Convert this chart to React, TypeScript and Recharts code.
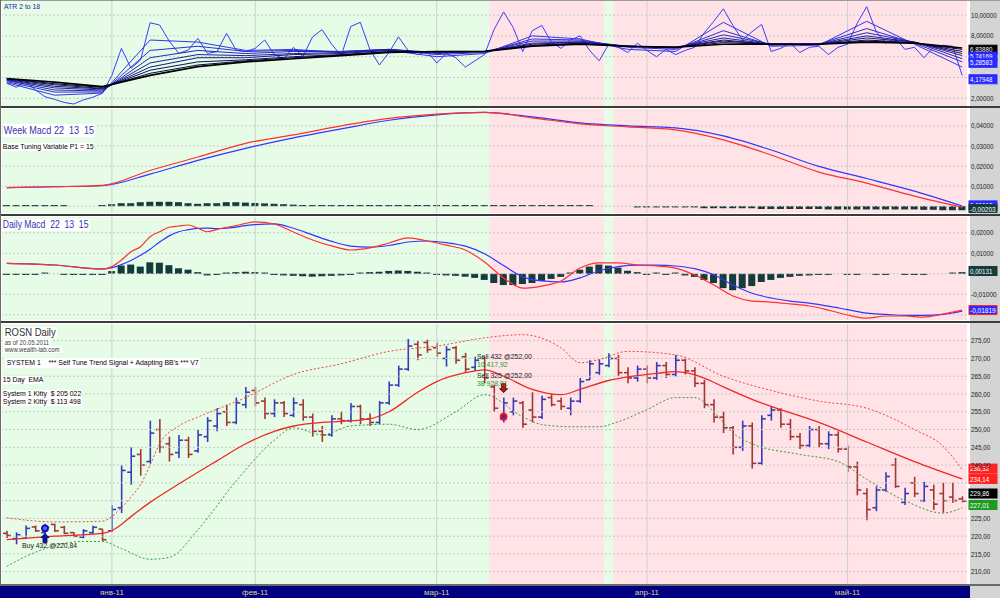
import React from 'react';
import {
  ComposedChart,
  Line,
  Bar,
  XAxis,
  YAxis,
  ReferenceArea,
  ReferenceLine,
  ReferenceDot,
} from 'recharts';

// first trading bar of each month (bar index) and its label
const monthTicks = [11, 26, 45, 67, 88];
const monthLabels = ['янв-11', 'фев-11', 'мар-11', 'апр-11', 'май-11'];

// trend regime zones: [first bar, last bar, regime]
const zones: [number, number, 'long' | 'short'][] = [
  [0, 50, 'long'],
  [51, 62, 'short'],
  [63, 63, 'long'],
  [64, 100, 'short'],
];

// ROSN daily OHLC, 15.12.2010 .. 20.05.2011
const open = [
  220.8, 219.3, 219.4, 222.6, 221.0, 223.3, 222.5, 221.0, 219.7, 221.0, 222.0,
  221.5, 228.0, 238.0, 243.0, 241.0, 250.0, 246.0, 243.5, 247.0, 244.0,
  248.0, 251.0, 255.0, 252.0, 257.0, 261.0, 258.0, 254.5, 257.5, 254.0,
  257.0, 253.5, 249.5, 248.5, 253.0, 252.5, 256.5, 253.0, 252.0, 257.5,
  262.5, 267.0, 274.0, 274.5, 273.0, 270.0, 273.0, 270.5, 267.5, 270.0,
  262.0, 253.0, 255.0, 257.5, 255.5, 253.5, 259.0, 258.0, 256.0, 258.0,
  264.0, 266.0, 268.0, 270.0, 266.0, 264.5, 267.0, 264.5, 268.0, 265.5,
  269.5, 266.5, 263.0, 257.0, 253.5, 250.5, 245.0, 251.0, 240.5, 254.0,
  255.5, 251.5, 248.0, 245.5, 250.0, 246.0, 248.5, 244.5, 239.5, 232.0,
  228.0, 233.0, 240.0, 229.5, 235.0, 230.0, 233.0, 232.0, 231.0, 230.5,
];
const high = [
  221.5, 221.1, 223.0, 223.0, 223.5, 223.5, 222.9, 221.2, 222.0, 222.9, 222.0,
  228.7, 240.0, 245.0, 244.5, 252.5, 253.0, 248.0, 248.5, 248.0, 250.0,
  253.5, 256.0, 257.0, 259.0, 262.0, 262.0, 259.0, 258.5, 258.0, 259.0,
  258.5, 254.5, 251.0, 254.0, 255.0, 257.5, 257.0, 254.5, 258.0, 263.5,
  268.0, 275.5, 275.0, 275.3, 274.5, 273.5, 273.5, 271.6, 270.5, 270.5,
  262.6, 259.0, 259.0, 258.0, 260.5, 259.5, 260.0, 259.0, 259.0, 264.5,
  269.5, 269.7, 271.5, 271.0, 267.5, 268.0, 268.0, 269.0, 269.0, 271.0,
  270.0, 267.5, 264.0, 258.5, 255.0, 251.0, 252.5, 252.0, 254.0, 256.5,
  256.0, 253.0, 249.0, 251.0, 251.0, 249.5, 249.5, 245.5, 241.0, 233.5,
  234.0, 238.0, 242.0, 233.6, 236.7, 235.3, 234.5, 235.0, 235.0, 231.2,
];
const low = [
  219.5, 217.7, 219.3, 221.2, 220.5, 221.2, 220.6, 219.7, 219.4, 220.6, 218.7,
  221.2, 226.5, 234.5, 237.0, 240.5, 243.5, 241.0, 242.0, 242.0, 243.5,
  246.5, 249.5, 251.0, 251.5, 256.0, 256.5, 253.0, 253.5, 253.5, 253.5,
  252.5, 248.0, 246.5, 248.0, 251.5, 252.0, 251.5, 251.0, 251.5, 257.0,
  262.0, 266.5, 269.5, 271.6, 270.5, 267.7, 268.5, 266.0, 266.5, 263.0,
  255.0, 252.0, 254.0, 250.5, 252.0, 253.0, 256.5, 255.5, 254.0, 257.5,
  264.0, 265.4, 267.5, 265.0, 263.0, 263.5, 263.0, 264.0, 264.5, 265.0,
  265.5, 262.0, 256.0, 252.0, 249.0, 243.0, 244.0, 239.0, 240.0, 252.5,
  250.5, 247.0, 244.5, 245.0, 245.0, 244.5, 243.5, 238.0, 231.5, 224.5,
  227.0, 232.5, 233.6, 228.8, 231.0, 229.7, 227.4, 226.6, 229.4, 229.5,
];
const close = [
  220.2, 220.4, 222.2, 221.5, 222.5, 221.5, 220.8, 220.0, 221.5, 222.5, 219.0,
  227.5, 238.5, 242.5, 240.0, 249.0, 245.0, 243.0, 247.0, 243.0, 248.5,
  252.5, 254.5, 252.0, 257.5, 260.5, 257.5, 254.5, 257.5, 254.5, 257.5,
  253.5, 249.5, 248.5, 253.0, 252.5, 256.5, 253.0, 252.0, 257.5, 262.5,
  267.0, 273.5, 271.0, 272.5, 271.5, 272.5, 269.5, 267.0, 269.5, 264.5,
  256.0, 257.5, 258.0, 251.5, 253.5, 258.5, 257.0, 256.5, 258.0, 263.5,
  268.5, 268.5, 270.0, 266.0, 264.5, 267.0, 264.5, 268.0, 265.5, 269.5,
  266.5, 263.0, 257.0, 253.5, 250.5, 245.0, 251.0, 240.5, 253.0, 255.5,
  251.5, 248.0, 245.5, 250.0, 246.0, 248.5, 244.5, 239.5, 233.0, 227.5,
  233.0, 236.8, 234.0, 232.0, 232.0, 234.0, 229.0, 230.0, 230.0, 229.86,
];

// 15 day EMA and adaptive bands, read at key bars
const emaIdx = [0, 5, 10, 11, 12, 13, 15, 17, 20, 22, 25, 28, 30, 33, 35, 38, 40, 43, 45, 48, 50, 52, 55, 58, 60, 63, 65, 68, 70, 73, 75, 78, 80, 85, 90, 95, 100];
const ema15 = [219.0, 220.0, 220.8, 221.6, 223.3, 225.5, 229.5, 233.0, 238.0, 241.2, 246.0, 249.5, 251.0, 252.0, 252.3, 253.0, 255.0, 260.5, 263.5, 266.0, 266.8, 265.0, 261.3, 259.8, 261.3, 263.8, 264.8, 265.8, 266.3, 264.5, 262.0, 258.5, 256.5, 252.0, 246.5, 241.0, 236.1];
const upperIdx = [0, 5, 10, 11, 12, 13, 14, 15, 16, 18, 20, 25, 30, 35, 40, 45, 50, 54, 58, 60, 62, 65, 70, 75, 80, 85, 90, 95, 98, 100];
const upperBand = [225.2, 224.0, 224.2, 225.5, 228.0, 231.0, 234.5, 240.0, 246.0, 251.0, 253.5, 259.0, 265.5, 268.5, 272.0, 273.5, 275.8, 276.7, 273.0, 268.8, 269.7, 272.0, 271.0, 265.0, 261.0, 258.0, 256.0, 250.0, 245.3, 238.7];
const lowerIdx = [0, 3, 8, 10, 12, 15, 17, 20, 24, 28, 30, 33, 36, 40, 43, 47, 50, 54, 56, 59, 62, 64, 67, 70, 72, 74, 76, 78, 83, 87, 90, 94, 98, 100];
const lowerBand = [211.5, 215.5, 218.5, 218.5, 216.5, 213.5, 214.0, 221.8, 235.5, 247.0, 250.5, 248.5, 251.0, 251.5, 250.0, 255.0, 259.8, 253.6, 251.4, 250.8, 250.8, 252.2, 255.6, 259.0, 259.0, 255.0, 249.0, 246.0, 243.0, 241.0, 236.0, 230.0, 226.5, 228.0];

// ATR 2 (daily)
const atr2 = [
  3.44, 3.06, 3.6, 2.8, 2.15, 1.9, 1.6, 1.45, 1.84, 2.1, 2.48,
  4.2, 6.8, 4.88, 5.68, 9.26, 9.04, 7.5, 6.32, 6.64, 7.76,
  6.32, 6.48, 8.24, 6.64, 6.48, 6.8, 7.6, 6.2, 5.8, 6.9,
  6.0, 7.9, 8.6, 7.2, 6.1, 8.9, 9.3, 6.7, 5.2, 6.4,
  7.9, 6.6, 6.2, 6.5, 5.4, 6.3, 5.9, 5.0, 5.6, 6.2,
  8.6, 10.3, 8.8, 6.5, 8.5, 9.0, 7.4, 6.8, 7.6, 8.0,
  6.6, 5.6, 7.2, 6.9, 6.4, 7.3, 6.6, 6.0, 6.7, 6.2,
  6.6, 6.9, 8.3, 9.4, 10.6, 9.0, 7.6, 8.4, 9.1, 6.5,
  6.8, 7.3, 6.4, 6.9, 7.0, 6.2, 6.9, 7.2, 9.2, 10.8,
  8.4, 7.3, 7.8, 6.7, 6.9, 5.9, 6.9, 7.1, 7.0, 4.18,
];
// ATR 3..10, read every 5th bar
const weekIdx = [0, 5, 10, 15, 20, 25, 30, 35, 40, 45, 50, 55, 60, 65, 70, 75, 80, 85, 90, 95, 100];
const atr3 = [3.5, 2.3, 2.5, 7.6, 7.4, 6.6, 6.7, 6.4, 6.6, 6.0, 6.3, 8.0, 7.7, 6.7, 6.5, 9.3, 7.0, 7.1, 9.4, 7.2, 5.0];
const atr4 = [3.6, 2.6, 2.6, 6.6, 7.0, 6.5, 6.6, 6.5, 6.7, 6.2, 6.4, 7.7, 7.6, 6.9, 6.7, 8.5, 7.1, 7.2, 8.7, 7.3, 5.5];
const atr5 = [3.7, 2.8, 2.7, 5.9, 6.6, 6.3, 6.5, 6.5, 6.7, 6.3, 6.5, 7.5, 7.5, 7.0, 6.8, 8.1, 7.2, 7.2, 8.3, 7.4, 5.8];
const atr6 = [3.75, 3.0, 2.8, 5.4, 6.2, 6.1, 6.3, 6.4, 6.7, 6.4, 6.5, 7.3, 7.4, 7.0, 6.9, 7.8, 7.2, 7.2, 8.0, 7.4, 6.1];
const atr7 = [3.8, 3.15, 2.9, 5.0, 5.9, 5.9, 6.2, 6.3, 6.6, 6.4, 6.5, 7.2, 7.4, 7.0, 6.9, 7.6, 7.2, 7.2, 7.8, 7.4, 6.3];
const atr8 = [3.85, 3.3, 2.95, 4.7, 5.5, 5.7, 6.0, 6.2, 6.5, 6.5, 6.5, 7.1, 7.3, 7.0, 6.9, 7.5, 7.2, 7.2, 7.6, 7.35, 6.5];
const atr9 = [3.88, 3.4, 3.05, 4.4, 5.2, 5.6, 5.9, 6.15, 6.45, 6.5, 6.5, 7.05, 7.25, 7.0, 6.9, 7.35, 7.2, 7.2, 7.5, 7.3, 6.7];
const atr10 = [3.9, 3.55, 3.12, 4.2, 5.04, 5.5, 5.8, 6.1, 6.4, 6.5, 6.5, 7.0, 7.2, 7.0, 6.9, 7.2, 7.2, 7.2, 7.4, 7.3, 6.84];

// weekly MACD 22/13/15 (every 5th bar) and histogram (daily)
const weekMacd = [0.0093, 0.0097, 0.0104, 0.0178, 0.0245, 0.0313, 0.0355, 0.04, 0.0437, 0.0458, 0.0467, 0.044, 0.041, 0.0395, 0.038, 0.033, 0.0255, 0.017, 0.0115, 0.005, -0.0005];
const weekSignal = [0.0093, 0.0097, 0.0102, 0.016, 0.0228, 0.0288, 0.034, 0.0385, 0.0428, 0.0455, 0.0467, 0.0445, 0.0415, 0.04, 0.039, 0.035, 0.028, 0.0198, 0.0138, 0.0075, 0.0001];
const weekHist: (number | null)[] = [
  0.0006, 0.0006, 0.0006, 0.0006, 0.0006, 0.0006, 0.0006, null, null, null, 0.0006,
  0.001, 0.0015, 0.0015, 0.002, 0.0022, 0.0022, 0.0022, 0.002, 0.0015, 0.0012,
  0.0015, 0.0015, 0.002, 0.002, 0.0018, 0.0016, 0.0014, 0.0012, 0.001, 0.0008,
  0.0006, 0.0006, 0.0006, 0.0006, 0.0006, 0.0006, 0.0006, 0.0006, 0.0006, 0.0006,
  0.0006, 0.0006, 0.0006, 0.0006, 0.0006, 0.0006, 0.0006, 0.0006, 0.0006, 0.0006,
  0.0006, 0.0006, 0.0006, 0.0006, 0.0006, 0.0006, 0.0006, 0.0006, 0.0006, 0.0006,
  0.0006, null, null, null, null, -0.0006, -0.0006, -0.0006, -0.0006, -0.0006,
  -0.0006, -0.0006, -0.001, -0.001, -0.001, -0.001, -0.001, -0.001, -0.0014, -0.0014,
  -0.0014, -0.0014, -0.0014, -0.0014, -0.0014, -0.0016, -0.0016, -0.0016, -0.0016, -0.0016,
  -0.0016, -0.0016, -0.0016, -0.0016, -0.0016, -0.0018, -0.0018, -0.002, -0.002, -0.002,
];

// daily MACD 22/13/15 at key bars, histogram daily
const dailyIdx = [0, 5, 10, 11, 12, 13, 14, 15, 16, 17, 18, 19, 20, 21, 22, 23, 24, 25, 26, 28, 30, 32, 34, 36, 38, 40, 42, 44, 46, 48, 50, 52, 54, 56, 58, 60, 62, 64, 66, 68, 70, 72, 74, 76, 78, 80, 82, 84, 86, 88, 90, 92, 94, 96, 98, 100];
const dailyMacd = [0.0051, 0.0043, 0.0023, 0.0035, 0.0067, 0.0108, 0.0132, 0.0181, 0.0205, 0.0227, 0.0233, 0.0238, 0.0222, 0.0205, 0.0217, 0.0227, 0.0235, 0.0246, 0.0253, 0.0243, 0.0204, 0.0165, 0.0136, 0.0116, 0.0126, 0.015, 0.0175, 0.016, 0.014, 0.0116, 0.0058, -0.002, -0.007, -0.006, -0.0035, 0.0028, 0.0053, 0.0053, 0.0043, 0.0038, 0.0028, -0.0006, -0.0055, -0.0108, -0.0133, -0.0138, -0.0147, -0.0157, -0.0177, -0.0201, -0.0216, -0.0206, -0.0206, -0.0211, -0.0196, -0.0177];
const dailySignal = [0.0051, 0.0043, 0.0024, 0.003, 0.0045, 0.0065, 0.009, 0.012, 0.0155, 0.0185, 0.0205, 0.0215, 0.0222, 0.0223, 0.022, 0.0222, 0.0228, 0.0235, 0.024, 0.0243, 0.0222, 0.019, 0.0158, 0.0135, 0.013, 0.0138, 0.0155, 0.016, 0.0152, 0.0135, 0.0098, 0.004, -0.0015, -0.0035, -0.004, -0.002, 0.0015, 0.0035, 0.0042, 0.0042, 0.0038, 0.0025, -0.0005, -0.0055, -0.0095, -0.0118, -0.0133, -0.0143, -0.0158, -0.0175, -0.0192, -0.0198, -0.0203, -0.0203, -0.0198, -0.0182];
const dailyHist: (number | null)[] = [
  -0.0006, -0.0006, -0.0006, -0.0006, 0.0006, null, -0.0006, -0.0006, -0.0006, -0.0006, -0.0006,
  0.0013, 0.004, 0.0045, 0.0035, 0.0056, 0.0054, 0.0042, 0.0027, 0.002, 0.0008,
  -0.0008, -0.0006, 0.0006, 0.0008, 0.001, 0.0008, 0.0006, -0.0006, -0.0008, -0.001,
  -0.0012, -0.0014, -0.0012, -0.001, -0.0008, -0.0006, 0.0006, 0.0008, 0.001, 0.0014,
  0.0016, 0.0014, 0.001, 0.0006, -0.0006, -0.0008, -0.001, -0.0014, -0.002, -0.003,
  -0.0045, -0.0055, -0.0055, -0.005, -0.0045, -0.0035, -0.0025, -0.0015, 0.0006, 0.002,
  0.0035, 0.0045, 0.004, 0.003, 0.0015, 0.0008, -0.0006, 0.0006, -0.0006, 0.0006,
  -0.0008, -0.0015, -0.003, -0.0045, -0.007, -0.008, -0.007, -0.006, -0.004, -0.003,
  -0.002, -0.0015, -0.001, -0.0008, -0.0006, -0.0006, null, -0.0006, -0.0006, null,
  -0.0006, -0.0006, null, -0.0006, -0.0006, -0.0006, null, null, 0.0006, 0.0008, 0.0013,
];

// trade signals
const buySignal = { bar: 4, price: 220.84, text: 'Buy 432 @220,84' };
const sellSignal = { bar: 52, price: 252.0 };
const sellTexts = ['Sell 432 @252,00', '10 417,92', 'Sell 325 @252,00', '38 928,01'];

// last-value badges on the right scale: [value used for placement, text, kind]
const atrBadges: [number, string, string][] = [
  [6.67, '6,83880', 'black'],
  [6.0, '5,74169', 'blue'],
  [5.41, '5,28583', 'blue'],
  [3.83, '4,17948', 'blue'],
];
const weekBadges: [number, string, string][] = [
  [0.0004, '0,00013', 'blue'],
  [-0.0014, '-0,00203', 'dark'],
];
const dailyBadges: [number, string, string][] = [
  [0.00137, '0,00131', 'dark'],
  [-0.0177, '-0,01819', 'bluered'],
];
const priceBadges: [number, string, string][] = [
  [239.0, '236,32', 'red'],
  [236.1, '234,14', 'red'],
  [232.0, '229,86', 'black'],
  [228.77, '227,01', 'green'],
];

// grid levels and the scale labels left visible beside the badges
const atrGrid = [2, 4, 6, 8, 10];
const atrLabels = [2, 8, 10];
const weekGrid = [0, 0.01, 0.02, 0.03, 0.04];
const weekLabels = [0.01, 0.02, 0.03, 0.04];
const dailyGrid = [-0.02, -0.01, 0, 0.01, 0.02];
const dailyLabels = [-0.01, 0.01, 0.02];
const priceGrid = [210, 215, 220, 225, 230, 235, 240, 245, 250, 255, 260, 265, 270, 275];
const priceLabels = [210, 215, 220, 225, 240, 245, 250, 255, 260, 265, 270, 275];

// ---------- table ----------
const rows: any[] = close.map((c, i) => ({
  i,
  open: open[i],
  high: high[i],
  low: low[i],
  close: c,
  atr2: atr2[i],
  wHist: weekHist[i],
  dHist: dailyHist[i],
}));
const put = (key: string, idx: number[], vals: number[]) =>
  idx.forEach((ix, k) => {
    rows[ix][key] = vals[k];
  });
put('ema', emaIdx, ema15);
put('upper', upperIdx, upperBand);
put('lower', lowerIdx, lowerBand);
put('atr3', weekIdx, atr3);
put('atr4', weekIdx, atr4);
put('atr5', weekIdx, atr5);
put('atr6', weekIdx, atr6);
put('atr7', weekIdx, atr7);
put('atr8', weekIdx, atr8);
put('atr9', weekIdx, atr9);
put('atr10', weekIdx, atr10);
put('wMacd', weekIdx, weekMacd);
put('wSig', weekIdx, weekSignal);
put('dMacd', dailyIdx, dailyMacd);
put('dSig', dailyIdx, dailySignal);

// ---------- styling ----------
const FONT = "'Liberation Sans', Arial, sans-serif";
const ZONE_FILL = { long: '#e6fce6', short: '#ffe3e6' };
const UP = '#3a3ab8';
const DOWN = '#a33636';
const HIST = '#143c3c';
const BADGE = {
  black: ['#000000', '#000000'],
  blue: ['#2a2aff', '#2a2aff'],
  dark: ['#143c3c', '#143c3c'],
  bluered: ['#2a2aff', '#ff2020'],
  red: ['#ff2020', '#ff2020'],
  green: ['#1f9a1f', '#1f9a1f'],
};
const ATR_COLORS = ['#3c3cff', '#3535ea', '#2e2ed4', '#2727bc', '#1f1fa0', '#181884', '#101064', '#080840', '#000000'];
const ATR_KEYS = ['atr2', 'atr3', 'atr4', 'atr5', 'atr6', 'atr7', 'atr8', 'atr9', 'atr10'];
const CHAR_W = 3.2; // the original scale uses a narrow bitmap font
const SCALE_FONT = 7.2;

const fmt = (d: number) => (v: number) => v.toFixed(d).replace('.', ',');

const ScaleTick = (props: any) => {
  const { x, y, payload, digits } = props;
  const s = fmt(digits)(payload.value);
  return (
    <text x={x} y={y + 2.6} fill="#202020" fontSize={SCALE_FONT} fontFamily={FONT} textLength={s.length * CHAR_W} lengthAdjust="spacingAndGlyphs">
      {s}
    </text>
  );
};

const BadgeLabel = (props: any) => {
  const { viewBox, text, kind } = props;
  if (!viewBox) return null;
  const [bg, border] = (BADGE as any)[kind];
  const x = viewBox.x + viewBox.width + 2;
  const y = viewBox.y;
  return (
    <g>
      <rect x={x} y={y - 4.5} width={28} height={9} fill={bg} stroke={border} strokeWidth={1} />
      <text x={x + 1} y={y + 2.6} fill="#ffffff" fontSize={SCALE_FONT} fontFamily={FONT} textLength={text.length * CHAR_W} lengthAdjust="spacingAndGlyphs">
        {text}
      </text>
    </g>
  );
};

const OhlcShape = (props: any) => {
  const { x, y, width, height, payload } = props;
  if (!payload || x == null) return null;
  const { open: o, high: h, low: l, close: c } = payload;
  const top = Math.min(y, y + height);
  const bottom = Math.max(y, y + height);
  const k = h - l > 0 ? (bottom - top) / (h - l) : 0;
  const cx = x + width / 2;
  const yo = top + (h - o) * k;
  const yc = top + (h - c) * k;
  const col = c >= o ? UP : DOWN;
  return (
    <g stroke={col} strokeWidth={1.6}>
      <line x1={cx} x2={cx} y1={top} y2={bottom} />
      <line x1={cx - 4} x2={cx} y1={yo} y2={yo} />
      <line x1={cx} x2={cx + 4} y1={yc} y2={yc} />
    </g>
  );
};

const SellArrow = (props: any) => {
  const { cx, cy } = props;
  return (
    <path d={`M${cx - 2},${cy - 5} L${cx + 2},${cy - 5} L${cx + 2},${cy} L${cx + 4},${cy} L${cx},${cy + 4} L${cx - 4},${cy} L${cx - 2},${cy} Z`} fill="#d01010" stroke="#200000" strokeWidth={0.8} />
  );
};
const BuyArrow = (props: any) => {
  const { cx, cy } = props;
  return (
    <path d={`M${cx - 2},${cy + 5} L${cx + 2},${cy + 5} L${cx + 2},${cy} L${cx + 4},${cy} L${cx},${cy - 4} L${cx - 4},${cy} L${cx - 2},${cy} Z`} fill="#1010c0" stroke="#000030" strokeWidth={0.8} />
  );
};
const Ring = (props: any) => {
  const { cx, cy, ring, core } = props;
  return <circle cx={cx} cy={cy} r={3} fill={core} stroke={ring} strokeWidth={1.8} />;
};

const MonthTick = (props: any) => {
  const { x, y, payload } = props;
  const label = monthLabels[monthTicks.indexOf(payload.value)];
  return (
    <text x={x} y={y + 9} textAnchor="middle" fill="#dccf9a" fontSize={8} fontFamily={FONT}>
      {label}
    </text>
  );
};

function Pane(props: {
  top: number;
  height: number;
  domain: [number, number];
  grid: number[];
  labels: number[];
  digits: number;
  badges: [number, string, string][];
  showX?: boolean;
  children?: React.ReactNode;
}) {
  const { top, height, domain, grid, labels, digits, badges, showX, children } = props;
  return (
    <div style={{ position: 'absolute', left: 0, top }}>
      <ComposedChart
        width={1000}
        height={height}
        data={rows}
        margin={{ top: 0, right: 0, bottom: 0, left: 2 }}
        barCategoryGap={0}
        barGap={0}
      >
        <XAxis
          dataKey="i"
          type="category"
          scale="band"
          hide={!showX}
          ticks={monthTicks}
          interval={0}
          height={14}
          axisLine={false}
          tickLine={false}
          tickSize={0}
          tick={<MonthTick />}
        />
        <YAxis
          orientation="right"
          width={33}
          domain={domain}
          allowDataOverflow
          ticks={labels}
          interval={0}
          axisLine={false}
          tickLine={false}
          tickSize={0}
          tickMargin={4}
          tick={<ScaleTick digits={digits} />}
        />
        {zones.map(([a, b, kind], k) => (
          <ReferenceArea key={`z${k}`} x1={a} x2={b} fill={ZONE_FILL[kind]} fillOpacity={1} stroke="none" ifOverflow="hidden" />
        ))}
        {grid.map((t) => (
          <ReferenceLine key={`h${t}`} y={t} stroke="#c6c6c6" strokeDasharray="2 2" />
        ))}
        {monthTicks.map((m) => (
          <ReferenceLine key={`v${m}`} x={m} stroke="#cfcfcf" />
        ))}
        {children}
        {badges.map(([v, text, kind]) => (
          <ReferenceLine key={`b${text}`} y={v} stroke="none" label={<BadgeLabel text={text} kind={kind} />} />
        ))}
      </ComposedChart>
    </div>
  );
}

// small annotation text, squeezed horizontally like the original bitmap font
const note = (extra: React.CSSProperties, boxed = true): React.CSSProperties => ({
  position: 'absolute',
  background: boxed ? '#ffffff' : 'transparent',
  whiteSpace: 'pre',
  lineHeight: 1,
  fontFamily: FONT,
  fontSize: 8,
  color: '#000000',
  transform: 'scaleX(0.86)',
  transformOrigin: '0 0',
  ...extra,
});

export default function App() {
  return (
    <div style={{ position: 'fixed', left: 0, top: 0, width: 1000, height: 598, overflow: 'hidden', background: '#ffffff' }}>
      {/* right scale strip and bottom date bar */}
      <div style={{ position: 'absolute', left: 970, top: 0, width: 30, height: 598, background: '#d4d4d4' }} />
      <div style={{ position: 'absolute', left: 0, top: 0, width: 1000, height: 1, background: '#9a9a9a' }} />
      <div style={{ position: 'absolute', left: 0, top: 586, width: 970, height: 12, background: '#000080' }} />

      {/* ATR pane */}
      <Pane top={1} height={105} domain={[1.26, 11.35]} grid={atrGrid} labels={atrLabels} digits={5} badges={atrBadges}>
        {ATR_KEYS.map((key, k) => (
          <Line
            key={key}
            dataKey={key}
            type="linear"
            stroke={ATR_COLORS[k]}
            strokeWidth={k === ATR_KEYS.length - 1 ? 1.6 : 1}
            dot={false}
            connectNulls
            isAnimationActive={false}
          />
        ))}
      </Pane>

      {/* Weekly MACD pane */}
      <Pane top={109} height={104} domain={[-0.00338, 0.0484]} grid={weekGrid} labels={weekLabels} digits={5} badges={weekBadges}>
        <Bar dataKey="wHist" fill={HIST} barSize={7} isAnimationActive={false} />
        <Line dataKey="wSig" type="monotone" stroke="#3535ff" strokeWidth={1.2} dot={false} connectNulls isAnimationActive={false} />
        <Line dataKey="wMacd" type="monotone" stroke="#ff3030" strokeWidth={1.2} dot={false} connectNulls isAnimationActive={false} />
      </Pane>

      {/* Daily MACD pane */}
      <Pane top={217} height={103} domain={[-0.02254, 0.0277]} grid={dailyGrid} labels={dailyLabels} digits={5} badges={dailyBadges}>
        <Bar dataKey="dHist" fill={HIST} barSize={7} isAnimationActive={false} />
        <Line dataKey="dSig" type="monotone" stroke="#3535ff" strokeWidth={1.2} dot={false} connectNulls isAnimationActive={false} />
        <Line dataKey="dMacd" type="monotone" stroke="#ff3030" strokeWidth={1.2} dot={false} connectNulls isAnimationActive={false} />
      </Pane>

      {/* Price pane */}
      <Pane top={324} height={274} domain={[206.54, 279.7]} grid={priceGrid} labels={priceLabels} digits={2} badges={priceBadges} showX>
        <Line dataKey="upper" type="monotone" stroke="#ee4444" strokeWidth={1} strokeDasharray="2 2" dot={false} connectNulls isAnimationActive={false} />
        <Line dataKey="lower" type="monotone" stroke="#3c9a3c" strokeWidth={1} strokeDasharray="2 2" dot={false} connectNulls isAnimationActive={false} />
        <Line dataKey="ema" type="monotone" stroke="#ee2828" strokeWidth={1.3} dot={false} connectNulls isAnimationActive={false} />
        <Bar dataKey={(d: any) => [d.low, d.high]} shape={<OhlcShape />} isAnimationActive={false} />
        <ReferenceDot x={sellSignal.bar} y={261.5} shape={<SellArrow />} />
        <ReferenceDot x={sellSignal.bar} y={253.6} shape={<Ring ring="#ff1010" core="#3030c0" />} />
        <ReferenceDot x={buySignal.bar} y={222.2} shape={<Ring ring="#1010c0" core="#6060ff" />} />
        <ReferenceDot x={buySignal.bar} y={219.6} shape={<BuyArrow />} />
      </Pane>

      {/* pane separators */}
      <div style={{ position: 'absolute', left: 0, top: 106, width: 1000, height: 2, background: '#3c3c3c' }} />
      <div style={{ position: 'absolute', left: 0, top: 214, width: 1000, height: 2, background: '#3c3c3c' }} />
      <div style={{ position: 'absolute', left: 0, top: 321, width: 1000, height: 2, background: '#3c3c3c' }} />
      <div style={{ position: 'absolute', left: 0, top: 584, width: 1000, height: 2, background: '#6a6a6a' }} />
      <div style={{ position: 'absolute', left: 0, top: 0, width: 1, height: 586, background: '#6a6a6a' }} />

      {/* pane titles */}
      <div style={note({ left: 4, top: 3, color: '#1c1ca8' }, false)}>ATR 2 to 18</div>
      <div style={note({ left: 3, top: 124, fontSize: 10.5, color: '#3434b0', padding: '1px 1px' })}>Week Macd 22  13  15</div>
      <div style={note({ left: 2, top: 143, padding: '0 1px' })}>Base Tuning Variable P1 = 15</div>
      <div style={note({ left: 2, top: 219, fontSize: 10, color: '#3434b0', padding: '1px 1px' })}>Daily Macd  22  13  15</div>

      <div style={note({ left: 3, top: 327, fontSize: 11, color: '#303030', padding: '0 2px' })}>ROSN Daily</div>
      <div style={note({ left: 3, top: 339, fontSize: 7, color: '#404040', padding: '0 2px' })}>as of 20.05.2011</div>
      <div style={note({ left: 3, top: 346, fontSize: 7, color: '#404040', padding: '0 2px' })}>www.wealth-lab.com</div>
      <div style={note({ left: 5, top: 358, padding: '1px 2px' })}>SYSTEM 1    *** Self Tune Trend Signal + Adapting BB's *** V7</div>
      <div style={note({ left: 2, top: 376, padding: '0 1px' })}>15 Day  EMA</div>
      <div style={note({ left: 2, top: 390, padding: '0 1px' })}>{'System 1 Kitty  $ 205 022\nSystem 2 Kitty  $ 113 498'}</div>

      {/* trade annotations */}
      <div style={note({ left: 477, top: 353, lineHeight: '8px' }, false)}>
        <div style={{ color: '#202020' }}>{sellTexts[0]}</div>
        <div style={{ color: '#1f9a1f' }}>{sellTexts[1]}</div>
      </div>
      <div style={note({ left: 477, top: 372, lineHeight: '8px' }, false)}>
        <div style={{ color: '#202020' }}>{sellTexts[2]}</div>
        <div style={{ color: '#1f9a1f' }}>{sellTexts[3]}</div>
      </div>
      <div style={note({ left: 22, top: 542, color: '#202020' }, false)}>{buySignal.text}</div>
    </div>
  );
}
